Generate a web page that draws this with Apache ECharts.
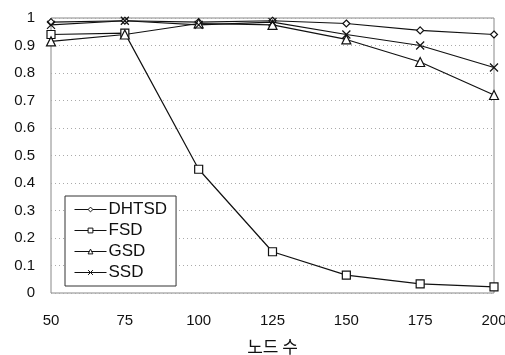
<!DOCTYPE html>
<html>
<head>
<meta charset="utf-8">
<script src="https://cdn.jsdelivr.net/npm/echarts@6/dist/echarts.min.js"></script>
<style>
  html, body { margin: 0; padding: 0; background: #fff; }
  #chart { width: 505px; height: 355px; }
</style>
</head>
<body>
<div id="chart"></div>
<script>
const nodes = ['50', '75', '100', '125', '150', '175', '200']
const dhtsd = [0.985, 0.99, 0.985, 0.99, 0.98, 0.955, 0.94]
const fsd   = [0.94, 0.945, 0.45, 0.15, 0.065, 0.033, 0.022]
const gsd   = [0.915, 0.94, 0.98, 0.975, 0.922, 0.84, 0.72]
const ssd   = [0.975, 0.99, 0.975, 0.985, 0.94, 0.9, 0.82]
const yTicks = [0, 0.1, 0.2, 0.3, 0.4, 0.5, 0.6, 0.7, 0.8, 0.9, 1]

const FONT = '"Liberation Sans", Arial, sans-serif'
const CROSS = 'path://M0,0L10,10M10,0L0,10'

function line(name, data, symbol, size) {
  return {
    name, type: 'line', data,
    symbol, symbolSize: size,
    lineStyle: { color: '#111', width: 1.2 },
    itemStyle: { color: '#fff', borderColor: '#111', borderWidth: 1.2 },
    emphasis: { disabled: true },
    animation: false,
  }
}

const chart = echarts.init(document.getElementById('chart'), null, { renderer: 'canvas' })
chart.setOption({
  backgroundColor: '#fff',
  textStyle: { fontFamily: FONT },
  grid: {
    left: 51, right: 11, top: 18, bottom: 62,
    outerBoundsMode: 'none',
    containLabel: false,
    show: true, borderColor: '#888', borderWidth: 1,
  },
  legend: {
    orient: 'vertical',
    left: 65, top: 196,
    padding: [5, 9, 5, 9],
    itemWidth: 32, itemHeight: 6, itemGap: 4,
    borderColor: '#333', borderWidth: 1,
    backgroundColor: '#fff',
    lineStyle: { width: 1 },
    itemStyle: { borderWidth: 1 },
    textStyle: { fontSize: 17, color: '#111', fontFamily: FONT, padding: [0, 0, 0, -3] },
    data: ['DHTSD', 'FSD', 'GSD', 'SSD'],
  },
  xAxis: {
    type: 'category',
    data: nodes,
    boundaryGap: false,
    name: '노드 수',
    nameLocation: 'middle',
    nameGap: 45,
    nameTextStyle: { fontSize: 17, color: '#111', fontFamily: '"Noto Sans CJK KR", sans-serif' },
    axisLine: { show: false },
    axisTick: { show: false },
    axisLabel: { fontSize: 15, color: '#111', margin: 20, fontFamily: FONT },
    splitLine: { show: false },
  },
  yAxis: {
    type: 'value',
    min: 0, max: 1, interval: 0.1,
    axisLine: { show: false },
    axisTick: { show: false },
    axisLabel: {
      fontSize: 15, color: '#111', margin: 16, fontFamily: FONT,
      formatter: v => String(yTicks.find(t => Math.abs(t - v) < 1e-6) ?? v),
    },
    splitLine: { lineStyle: { color: '#aaa', type: [1, 3], width: 1 } },
  },
  series: [
    line('DHTSD', dhtsd, 'diamond', 7),
    line('FSD', fsd, 'rect', 8),
    line('GSD', gsd, 'triangle', 9),
    line('SSD', ssd, CROSS, 8),
  ],
})
</script>
</body>
</html>
